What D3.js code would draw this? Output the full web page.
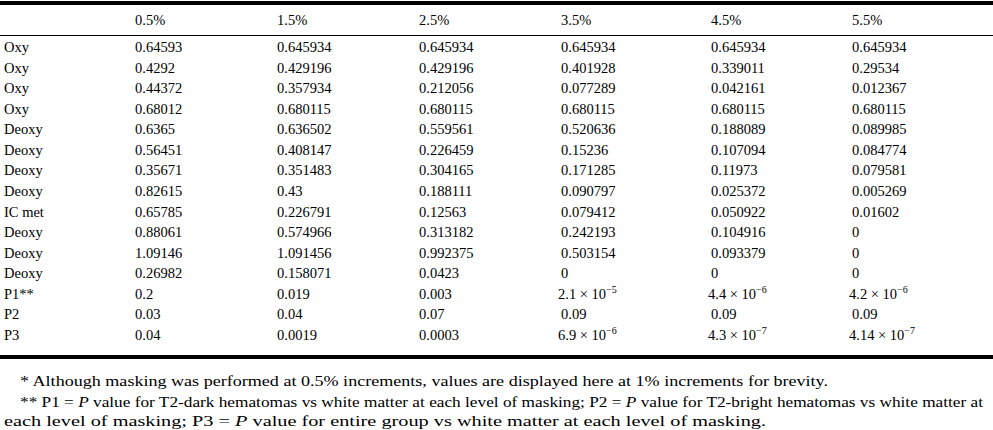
<!DOCTYPE html>
<html><head><meta charset="utf-8">
<script src="https://cdn.jsdelivr.net/npm/d3@7"></script>
<style>body{margin:0;background:#fff}svg{font-family:"Liberation Serif","Times New Roman",serif;font-size:14.5px}</style>
</head><body><svg id="Viz" width="993" height="430"></svg>
<script>
let columns = ["0.5%", "1.5%", "2.5%", "3.5%", "4.5%", "5.5%"];
let rowLabels = ["Oxy","Oxy","Oxy","Oxy","Deoxy","Deoxy","Deoxy","Deoxy","IC met","Deoxy","Deoxy","Deoxy","P1**","P2","P3"];
// "a|b" means a × 10^b
let values = [
  ["0.64593","0.645934","0.645934","0.645934","0.645934","0.645934"],
  ["0.4292","0.429196","0.429196","0.401928","0.339011","0.29534"],
  ["0.44372","0.357934","0.212056","0.077289","0.042161","0.012367"],
  ["0.68012","0.680115","0.680115","0.680115","0.680115","0.680115"],
  ["0.6365","0.636502","0.559561","0.520636","0.188089","0.089985"],
  ["0.56451","0.408147","0.226459","0.15236","0.107094","0.084774"],
  ["0.35671","0.351483","0.304165","0.171285","0.11973","0.079581"],
  ["0.82615","0.43","0.188111","0.090797","0.025372","0.005269"],
  ["0.65785","0.226791","0.12563","0.079412","0.050922","0.01602"],
  ["0.88061","0.574966","0.313182","0.242193","0.104916","0"],
  ["1.09146","1.091456","0.992375","0.503154","0.093379","0"],
  ["0.26982","0.158071","0.0423","0","0","0"],
  ["0.2","0.019","0.003","2.1|−5","4.4|−6","4.2|−6"],
  ["0.03","0.04","0.07","0.09","0.09","0.09"],
  ["0.04","0.0019","0.0003","6.9|−6","4.3|−7","4.14|−7"]
];

let svg = d3.select('#Viz');
let xScale = d3.scaleOrdinal().domain(columns).range([135, 277, 419, 561, 711, 852]);
let yScale = d3.scalePoint().domain(d3.range(rowLabels.length)).range([47, 335]);

svg.append("rect").attr("x",0).attr("y",1).attr("width",993).attr("height",4).attr("fill","#000");
svg.append("rect").attr("x",0).attr("y",35).attr("width",993).attr("height",1).attr("fill","#000");
svg.append("rect").attr("x",0).attr("y",355).attr("width",993).attr("height",4).attr("fill","#000");

svg.selectAll(".hdr").data(columns).enter().append("text")
  .attr("x", d => xScale(d)).attr("y", 25).text(d => d);

svg.selectAll(".lab").data(rowLabels).enter().append("text")
  .attr("x", 4).attr("y", (d,i) => yScale(i) + 5).text(d => d);

values.forEach((row, i) => {
  row.forEach((v, j) => {
    let t = svg.append("text").attr("x", xScale(columns[j]) + (v.includes("|") ? -3 : 0)).attr("y", yScale(i) + 5);
    if (v.includes("|")) {
      let [m, e] = v.split("|");
      t.append("tspan").text(m + " × 10");
      t.append("tspan").attr("dy", -6).attr("font-size", "10px").text(e);
    } else t.text(v);
  });
});

let notes = [
  {x: 20, y: 386, w: 808, parts: ["* Although masking was performed at 0.5% increments, values are displayed here at 1% increments for brevity."]},
  {x: 20, y: 407, w: 963, parts: ["** P1 = ", "P", " value for T2-dark hematomas vs white matter at each level of masking; P2 = ", "P", " value for T2-bright hematomas vs white matter at"]},
  {x: 4, y: 426, w: 762, parts: ["each level of masking; P3 = ", "P", " value for entire group vs white matter at each level of masking."]}
];
notes.forEach(n => {
  let t = svg.append("text").attr("x", n.x).attr("y", n.y).attr("font-size", "15px")
    .attr("textLength", n.w).attr("lengthAdjust", "spacingAndGlyphs");
  n.parts.forEach(p => t.append("tspan").attr("font-style", p === "P" ? "italic" : null).text(p));
});
</script></body></html>
